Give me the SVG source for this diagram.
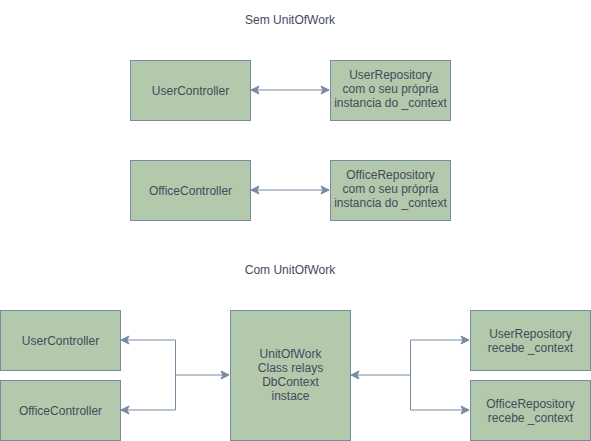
<svg xmlns="http://www.w3.org/2000/svg" width="591" height="441" viewBox="0 0 591 441">
<defs>
<style>
.box{fill:#B2C9AB;stroke:#788AA3;stroke-width:1}
.t{font-family:"Liberation Sans",Arial,sans-serif;font-size:12px;fill:#46495D;text-anchor:middle}
.c{fill:none;stroke:#788AA3;stroke-width:1}
</style>
<marker id="a" markerUnits="userSpaceOnUse" markerWidth="10" markerHeight="10" refX="8" refY="4" orient="auto-start-reverse" viewBox="0 0 10 8" overflow="visible">
<path d="M0,0 L8,4 L0,8 L2,4 z" fill="#788AA3" stroke="#788AA3" stroke-width="1"/>
</marker>
</defs>
<rect width="591" height="441" fill="#ffffff"/>
<text class="t" x="290" y="24">Sem UnitOfWork</text>
<text class="t" x="290" y="274">Com UnitOfWork</text>
<g id="connectors">
<path class="c" d="M251,90 H329" marker-start="url(#a)" marker-end="url(#a)"/>
<path class="c" d="M251,190 H329" marker-start="url(#a)" marker-end="url(#a)"/>
<path class="c" d="M175.5,375 H229" marker-end="url(#a)"/>
<path class="c" d="M175.5,375 V340 H121" marker-end="url(#a)"/>
<path class="c" d="M175.5,375 V410 H121" marker-end="url(#a)"/>
<path class="c" d="M410.5,375 H351" marker-end="url(#a)"/>
<path class="c" d="M410.5,375 V340 H469" marker-end="url(#a)"/>
<path class="c" d="M410.5,375 V410 H469" marker-end="url(#a)"/>
</g>
<g id="userController1">
<rect class="box" x="130.5" y="60.5" width="120" height="60"/>
<text class="t" x="190.5" y="94.5">UserController</text>
</g>
<g id="userRepository1">
<rect class="box" x="330.5" y="60.5" width="120" height="60"/>
<text class="t" x="390.5" y="79">UserRepository</text>
<text class="t" x="390.5" y="93">com o seu própria</text>
<text class="t" x="390.5" y="107">instancia do _context</text>
</g>
<g id="officeController1">
<rect class="box" x="130.5" y="160.5" width="120" height="60"/>
<text class="t" x="190.5" y="194.5">OfficeController</text>
</g>
<g id="officeRepository1">
<rect class="box" x="330.5" y="160.5" width="120" height="60"/>
<text class="t" x="390.5" y="179">OfficeRepository</text>
<text class="t" x="390.5" y="193">com o seu própria</text>
<text class="t" x="390.5" y="207">instancia do _context</text>
</g>
<g id="userController2">
<rect class="box" x="0.5" y="310.5" width="120" height="60"/>
<text class="t" x="60.5" y="344.5">UserController</text>
</g>
<g id="officeController2">
<rect class="box" x="0.5" y="380.5" width="120" height="60"/>
<text class="t" x="60.5" y="414.5">OfficeController</text>
</g>
<g id="unitOfWork">
<rect class="box" x="230.5" y="310.5" width="120" height="130"/>
<text class="t" x="290.5" y="358">UnitOfWork</text>
<text class="t" x="290.5" y="372">Class relays</text>
<text class="t" x="290.5" y="386">DbContext</text>
<text class="t" x="290.5" y="400">instace</text>
</g>
<g id="userRepository2">
<rect class="box" x="470.5" y="310.5" width="120" height="60"/>
<text class="t" x="530.5" y="338">UserRepository</text>
<text class="t" x="530.5" y="352">recebe _context</text>
</g>
<g id="officeRepository2">
<rect class="box" x="470.5" y="380.5" width="120" height="60"/>
<text class="t" x="530.5" y="408">OfficeRepository</text>
<text class="t" x="530.5" y="422">recebe _context</text>
</g>
</svg>
